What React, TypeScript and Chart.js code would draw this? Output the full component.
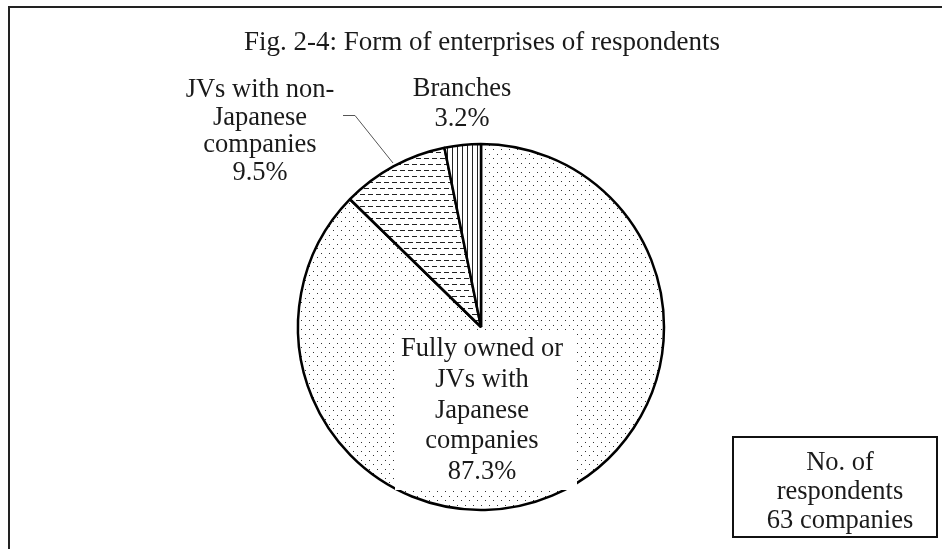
import React, { useEffect, useRef } from "react";
import { Chart, registerables } from "chart.js";

Chart.register(...registerables);

const TITLE = "Fig. 2-4: Form of enterprises of respondents";
const CATEGORIES = [
  "Fully owned or JVs with Japanese companies",
  "JVs with non-Japanese companies",
  "Branches",
];
const SHARES = [87.3, 9.5, 3.2];
const LABEL_LINES = [
  ["Fully owned or", "JVs with", "Japanese", "companies"],
  ["JVs with non-", "Japanese", "companies"],
  ["Branches"],
];
const NOTE_LINES = ["No. of", "respondents", "63 companies"];

const FONT = "26.5px 'Liberation Serif', 'Times New Roman', serif";
const TITLE_FONT = "27px 'Liberation Serif', 'Times New Roman', serif";
const INK = "#1a1a1a";

function makePattern(kind: string): CanvasPattern | string {
  const c = document.createElement("canvas");
  const g = c.getContext("2d");
  if (!g) return "#fff";
  if (kind === "dots") {
    c.width = 8;
    c.height = 9;
    g.fillStyle = "#fff";
    g.fillRect(0, 0, 8, 9);
    g.fillStyle = "#333";
    g.fillRect(1, 1, 1, 1);
    g.fillRect(5, 5, 1, 1);
  } else if (kind === "dashes") {
    c.width = 8;
    c.height = 12;
    g.fillStyle = "#fff";
    g.fillRect(0, 0, 8, 12);
    g.fillStyle = "#222";
    g.fillRect(0, 2, 5, 1);
    g.fillRect(4, 8, 4, 1);
    g.fillRect(0, 8, 1, 1);
  } else {
    c.width = 5;
    c.height = 5;
    g.fillStyle = "#fff";
    g.fillRect(0, 0, 5, 5);
    g.fillStyle = "#222";
    g.fillRect(2, 0, 1, 5);
  }
  const p = g.createPattern(c, "repeat");
  return p || "#fff";
}

const decorPlugin = {
  id: "decor",
  afterDatasetsDraw(chart: any) {
    const ctx = chart.ctx as CanvasRenderingContext2D;
    const meta = chart.getDatasetMeta(0);
    const arc0 = meta.data[0];
    const cx = arc0.x;
    const cy = arc0.y;
    ctx.save();

    // white backing box behind main label
    ctx.fillStyle = "#fff";
    ctx.fillRect(cx - 86, cy + 6, 182, 157);

    ctx.font = FONT;
    ctx.fillStyle = INK;
    ctx.textAlign = "center";
    ctx.textBaseline = "alphabetic";

    // main slice label
    const mainLines = [...LABEL_LINES[0], `${SHARES[0].toFixed(1)}%`];
    mainLines.forEach((t, i) => ctx.fillText(t, cx + 1, cy + 29 + i * 30.8));

    // JV non-Japanese label
    const jvLines = [...LABEL_LINES[1], `${SHARES[1].toFixed(1)}%`];
    jvLines.forEach((t, i) => ctx.fillText(t, 260, 97 + i * 27.7));

    // Branches label
    const brLines = [...LABEL_LINES[2], `${SHARES[2].toFixed(1)}%`];
    brLines.forEach((t, i) => ctx.fillText(t, 462, 96 + i * 29.5));

    // leader line
    ctx.strokeStyle = "#555";
    ctx.lineWidth = 1;
    ctx.beginPath();
    ctx.moveTo(343, 115.5);
    ctx.lineTo(355, 115.5);
    ctx.lineTo(393, 163);
    ctx.stroke();

    // note box
    ctx.strokeStyle = "#111";
    ctx.lineWidth = 2;
    ctx.strokeRect(733, 437, 204, 100);
    NOTE_LINES.forEach((t, i) => ctx.fillText(t, 840, 470 + i * 29));

    // title
    ctx.font = TITLE_FONT;
    ctx.fillText(TITLE, 482, 50);

    // outer frame
    ctx.strokeStyle = "#222";
    ctx.lineWidth = 2;
    ctx.beginPath();
    ctx.moveTo(9, 560);
    ctx.lineTo(9, 7);
    ctx.lineTo(960, 7);
    ctx.stroke();

    ctx.restore();
  },
};

export default function App() {
  const ref = useRef<HTMLCanvasElement | null>(null);
  useEffect(() => {
    const canvas = ref.current;
    if (!canvas) return;
    const chart = new Chart(canvas, {
      type: "pie",
      data: {
        labels: CATEGORIES,
        datasets: [
          {
            data: SHARES,
            backgroundColor: [makePattern("dots"), makePattern("dashes"), makePattern("vlines")],
            borderColor: "#000",
            borderWidth: 2.5,
          },
        ],
      },
      options: {
        responsive: false,
        animation: false,
        devicePixelRatio: 1,
        radius: 183,
        layout: { padding: { left: 297, right: 277, top: 143, bottom: 38 } },
        plugins: {
          legend: { display: false },
          tooltip: { enabled: false },
          title: { display: false },
        },
      } as any,
      plugins: [decorPlugin],
    });
    return () => chart.destroy();
  }, []);
  return (
    <canvas
      ref={ref}
      width={942}
      height={549}
      style={{ position: "fixed", left: 0, top: 0, width: 942, height: 549, background: "#fff" }}
    />
  );
}
